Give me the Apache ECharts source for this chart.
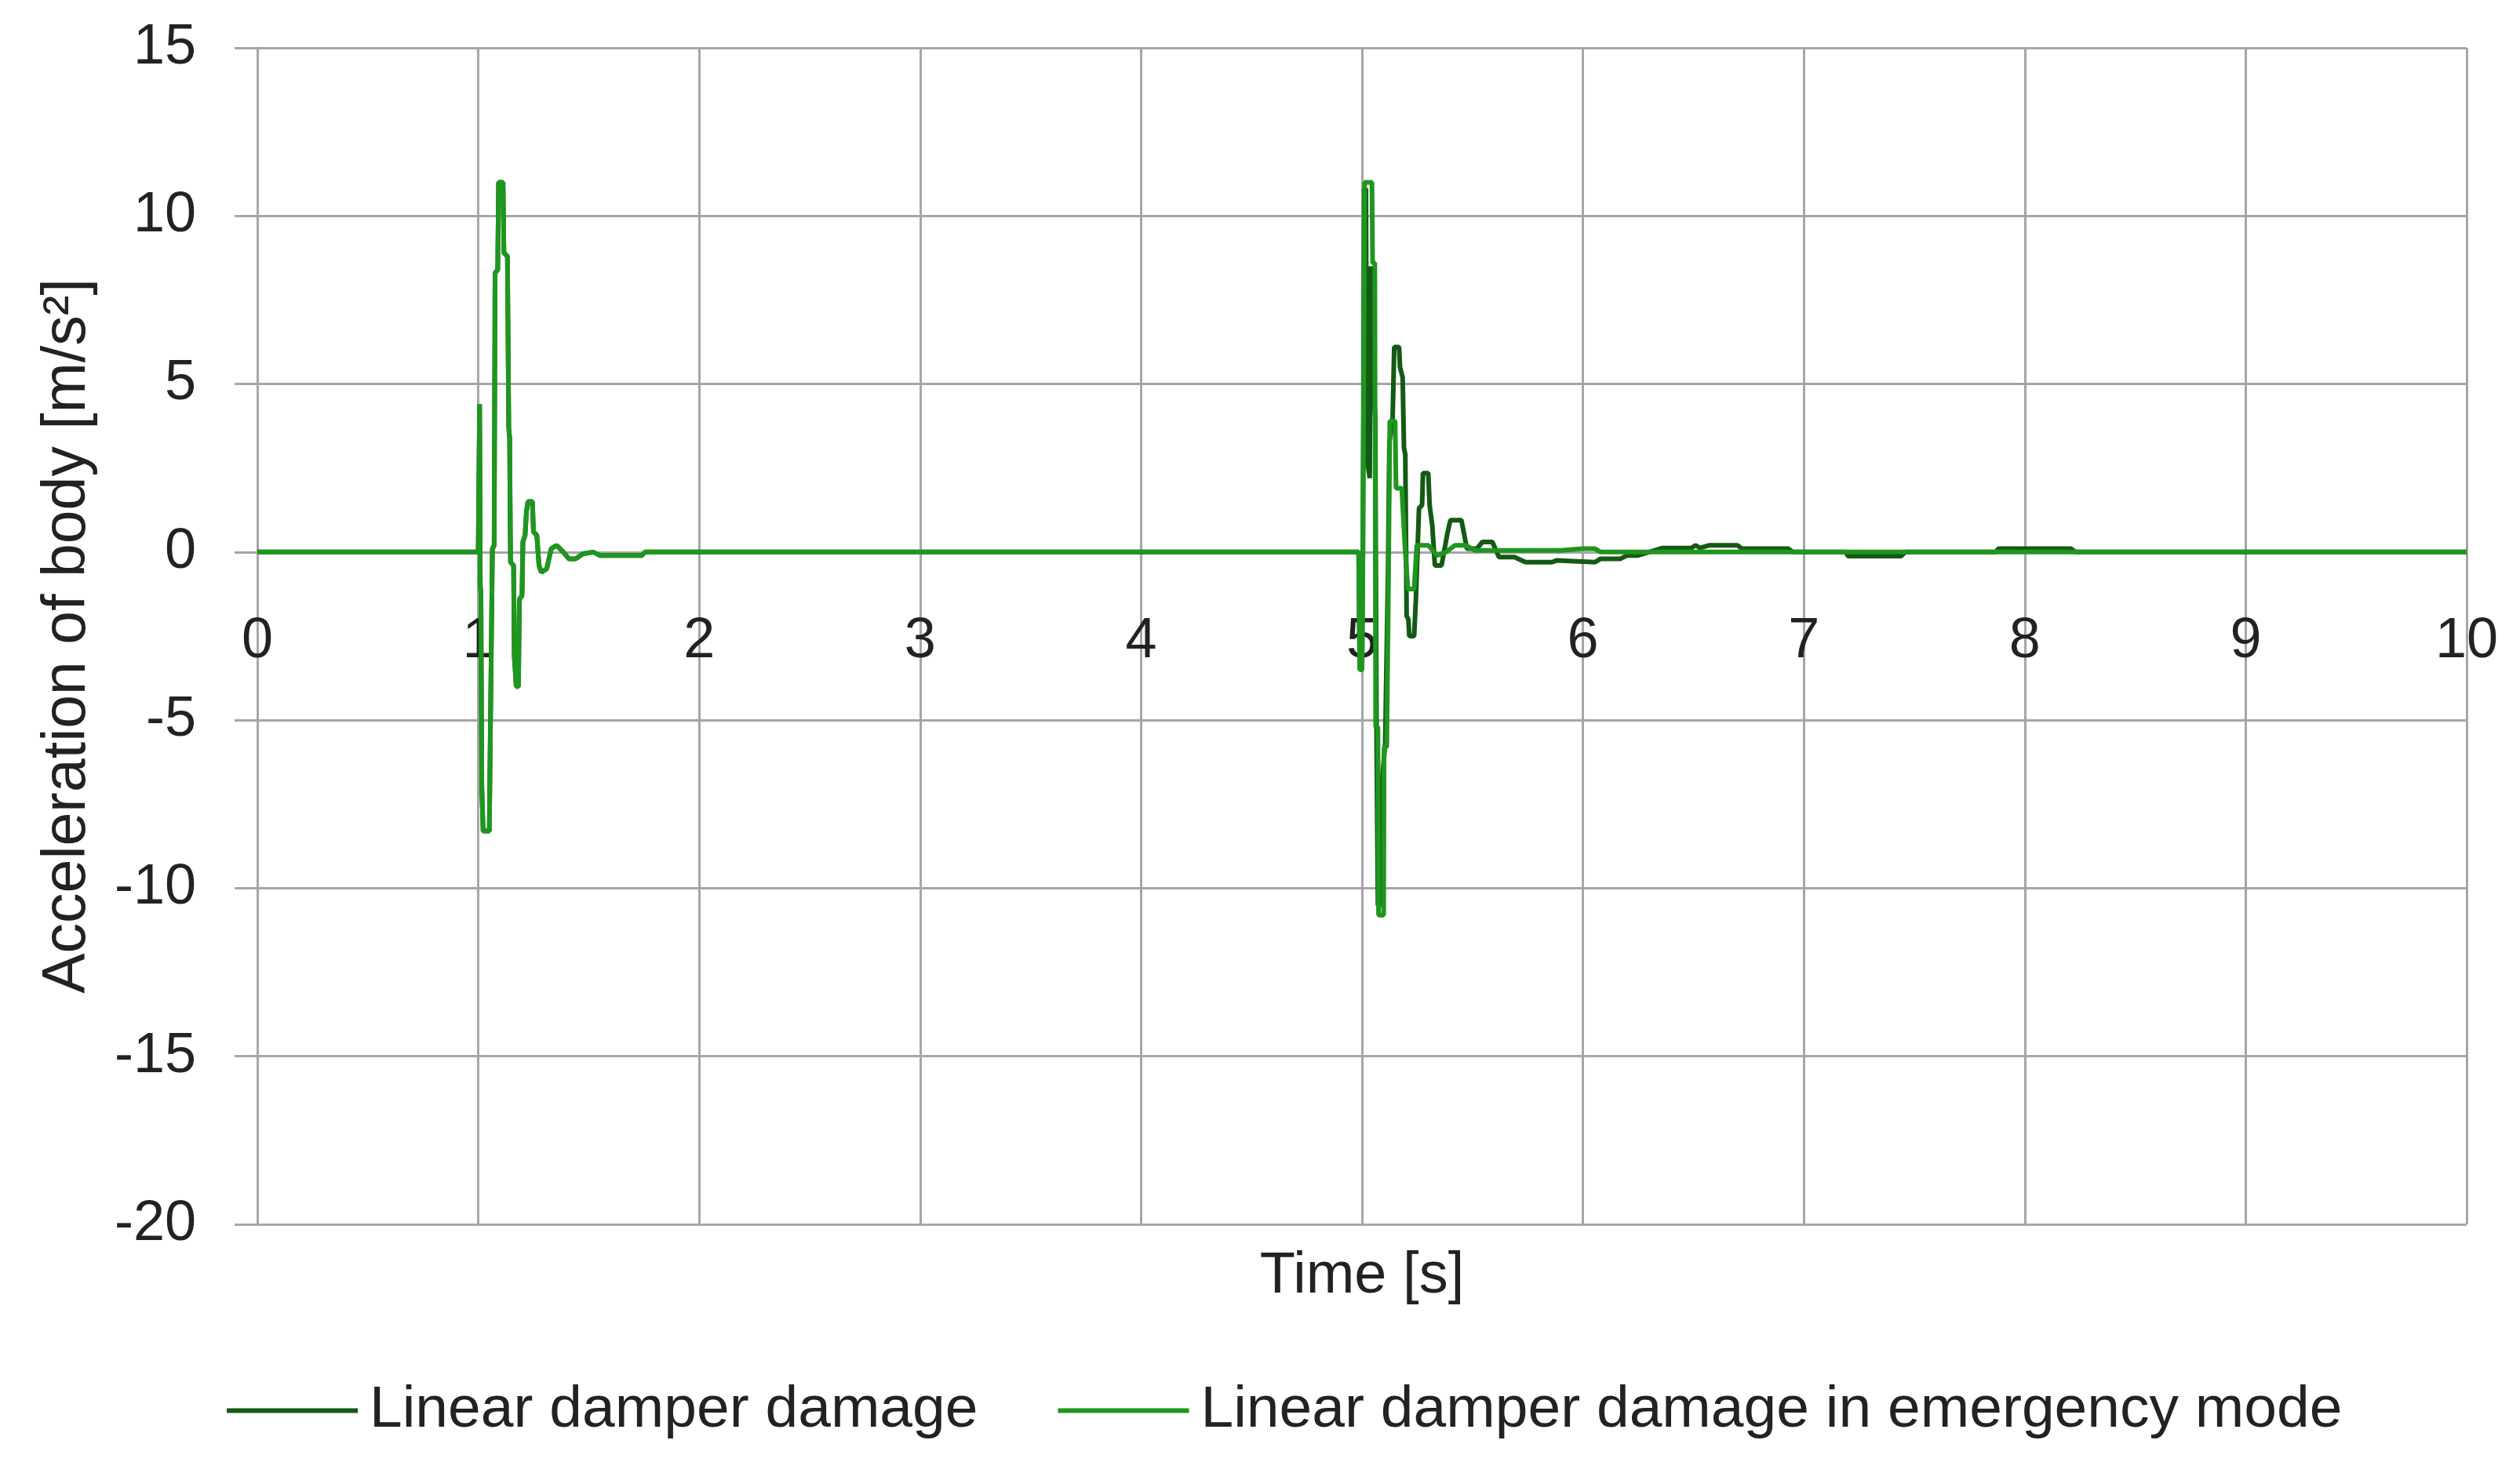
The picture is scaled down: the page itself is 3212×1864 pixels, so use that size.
<!DOCTYPE html>
<html>
<head>
<meta charset="utf-8">
<script src="https://cdn.jsdelivr.net/npm/echarts@6/dist/echarts.min.js"></script>
<style>
html,body{margin:0;padding:0;background:#fff;}
#chart{width:3212px;height:1864px;}
</style>
</head>
<body>
<div id="chart"></div>
<script>
// ---- Data (time in s, acceleration in m/s^2) ----
const seriesNames = ['Linear damper damage', 'Linear damper damage in emergency mode'];
const xTicks = [0, 1, 2, 3, 4, 5, 6, 7, 8, 9, 10];
const yTicks = [-20, -15, -10, -5, 0, 5, 10, 15];

const damageTime = [0, 1.000, 1.006, 1.009, 1.012, 1.016, 1.022, 1.050, 1.054, 1.060, 1.064, 1.072, 1.076, 1.088, 1.092, 1.112, 1.116, 1.132, 1.138, 1.142, 1.146, 1.160, 1.163, 1.170, 1.172, 1.182, 1.186, 1.198, 1.202, 1.212, 1.218, 1.225, 1.245, 1.250, 1.265, 1.275, 1.285, 1.310, 1.330, 1.355, 1.385, 1.410, 1.440, 1.475, 1.520, 1.550, 1.740, 1.755,
  4.985, 4.990, 5.000, 5.004, 5.010, 5.018, 5.022, 5.035, 5.040, 5.048, 5.060, 5.066, 5.072, 5.088, 5.092, 5.105, 5.118, 5.124, 5.138, 5.146, 5.168, 5.172, 5.184, 5.190, 5.196, 5.202, 5.210, 5.214, 5.236, 5.244, 5.258, 5.272, 5.276, 5.300, 5.306, 5.318, 5.330, 5.360, 5.385, 5.400, 5.450, 5.475, 5.520, 5.545, 5.590, 5.620, 5.690, 5.740, 5.860, 5.880, 6.055, 6.080, 6.170, 6.200, 6.250, 6.300, 6.360, 6.490, 6.510, 6.530, 6.570, 6.700, 6.720, 6.930, 6.950, 7.190, 7.200, 7.440, 7.460, 7.870, 7.880, 8.210, 8.230, 10];
const damageAccel = [0, 0, 4.4, -1.0, -1.2, -7.0, -8.3, -8.3, -5.8, -5.8, 0.1, 0.2, 8.3, 8.4, 11.0, 11.0, 8.9, 8.8, 3.7, 3.4, -0.3, -0.4, -3.1, -3.1, -4.0, -4.0, -1.4, -1.3, 0.3, 0.5, 1.2, 1.5, 1.5, 0.6, 0.5, -0.4, -0.6, -0.5, 0.1, 0.2, 0.0, -0.2, -0.2, -0.05, 0, -0.1, -0.1, 0,
  0, -3.5, -3.5, 0, 10.8, 10.8, 2.8, 2.2, 8.5, 5.4, 4.0, -5.5, -10.5, -10.5, -6.7, -5.7, -0.5, 3.3, 3.8, 6.1, 6.1, 5.5, 5.2, 3.1, 2.9, -1.9, -2.0, -2.5, -2.5, -1.4, 1.3, 1.4, 2.35, 2.35, 1.4, 0.8, -0.4, -0.4, 0.5, 0.95, 0.95, 0.1, 0.1, 0.3, 0.3, -0.15, -0.15, -0.3, -0.3, -0.25, -0.3, -0.2, -0.2, -0.1, -0.1, 0, 0.12, 0.12, 0.2, 0.12, 0.2, 0.2, 0.1, 0.1, 0, 0, -0.12, -0.12, 0, 0, 0.1, 0.1, 0, 0];

const emergencyTime = [0, 1.000, 1.006, 1.009, 1.012, 1.016, 1.022, 1.050, 1.054, 1.060, 1.064, 1.072, 1.076, 1.088, 1.092, 1.112, 1.116, 1.132, 1.138, 1.142, 1.146, 1.160, 1.163, 1.170, 1.172, 1.182, 1.186, 1.198, 1.202, 1.212, 1.218, 1.225, 1.245, 1.250, 1.265, 1.275, 1.285, 1.310, 1.330, 1.355, 1.385, 1.410, 1.440, 1.475, 1.520, 1.550, 1.740, 1.755,
  4.985, 4.990, 5.000, 5.004, 5.010, 5.012, 5.045, 5.048, 5.058, 5.062, 5.072, 5.075, 5.098, 5.100, 5.112, 5.120, 5.126, 5.150, 5.154, 5.180, 5.194, 5.208, 5.236, 5.248, 5.300, 5.340, 5.380, 5.420, 5.470, 5.510, 5.900, 6.000, 6.055, 6.080, 10];
const emergencyAccel = [0, 0, 4.4, -1.0, -1.2, -7.0, -8.3, -8.3, -5.8, -5.8, 0.1, 0.2, 8.3, 8.4, 11.0, 11.0, 8.9, 8.8, 3.7, 3.4, -0.3, -0.4, -3.1, -3.1, -4.0, -4.0, -1.4, -1.3, 0.3, 0.5, 1.2, 1.5, 1.5, 0.6, 0.5, -0.4, -0.6, -0.5, 0.1, 0.2, 0.0, -0.2, -0.2, -0.05, 0, -0.1, -0.1, 0,
  0, -3.5, -3.5, 0, 8.0, 11.0, 11.0, 8.6, 8.6, -5.2, -5.2, -10.8, -10.8, -5.8, -5.8, -0.8, 3.9, 3.9, 1.9, 1.9, 0.2, -1.1, -1.1, 0.2, 0.2, -0.1, 0.0, 0.2, 0.2, 0.05, 0.05, 0.1, 0.1, 0, 0];

const FONT = "'Liberation Sans', Arial, sans-serif";
const GRID_COLOR = '#a6a6a6';
const COLORS = ['#145a14', '#1f961f'];
const GRID = { left: 328, right: 68, top: 61, bottom: 303 };
const CHART_H = 1864;

function pairs(t, v) { return t.map((x, i) => [x, v[i]]); }

const yMin = yTicks[0], yMax = yTicks[yTicks.length - 1];
const plotH = CHART_H - GRID.top - GRID.bottom;
// move the labelled x axis up from the bottom edge to the y = 0 line
const zeroOffset = -plotH * (0 - yMin) / (yMax - yMin);

const chart = echarts.init(document.getElementById('chart'), null, { renderer: 'canvas' });
chart.setOption({
  animation: false,
  backgroundColor: '#ffffff',
  textStyle: { fontFamily: FONT },
  grid: Object.assign({ containLabel: false }, GRID),
  legend: {
    left: 284, top: 1756,
    icon: 'rect',
    itemWidth: 167, itemHeight: 6, itemGap: 102,
    textStyle: { fontFamily: FONT, fontSize: 75, color: '#222', padding: [0, 0, 0, 10] },
    data: seriesNames
  },
  xAxis: [{
    type: 'value', min: xTicks[0], max: xTicks[xTicks.length - 1], interval: 1,
    position: 'bottom', offset: zeroOffset,
    axisLine: { show: true, onZero: false, lineStyle: { color: GRID_COLOR, width: 3 } },
    axisTick: { show: false },
    axisLabel: { margin: 78, fontSize: 72, color: '#222', fontFamily: FONT },
    splitLine: { show: true, lineStyle: { color: GRID_COLOR, width: 3 } }
  }, {
    type: 'value', min: xTicks[0], max: xTicks[xTicks.length - 1], interval: 1,
    position: 'bottom',
    axisLine: { show: false, onZero: false },
    axisTick: { show: false },
    axisLabel: { show: false },
    splitLine: { show: false },
    name: 'Time [s]', nameLocation: 'middle', nameGap: 30,
    nameTextStyle: { fontSize: 74, color: '#222', fontFamily: FONT }
  }],
  yAxis: {
    type: 'value', min: yMin, max: yMax, interval: 5,
    axisLine: { show: true, onZero: false, lineStyle: { color: GRID_COLOR, width: 3 } },
    axisTick: { show: true, inside: false, length: 29, lineStyle: { color: GRID_COLOR, width: 3 } },
    axisLabel: { margin: 78, fontSize: 72, color: '#222', fontFamily: FONT },
    splitLine: { show: true, lineStyle: { color: GRID_COLOR, width: 3 } },
    name: 'Acceleration of body [m/s²]', nameLocation: 'middle', nameGap: 203,
    nameTextStyle: { fontSize: 77, color: '#222', fontFamily: FONT }
  },
  series: [{
    name: seriesNames[0], type: 'line', xAxisIndex: 0, showSymbol: false, symbol: 'none',
    data: pairs(damageTime, damageAccel),
    lineStyle: { color: COLORS[0], width: 6 }, itemStyle: { color: COLORS[0] }
  }, {
    name: seriesNames[1], type: 'line', xAxisIndex: 0, showSymbol: false, symbol: 'none',
    data: pairs(emergencyTime, emergencyAccel),
    lineStyle: { color: COLORS[1], width: 6 }, itemStyle: { color: COLORS[1] }
  }]
});
</script>
</body>
</html>
